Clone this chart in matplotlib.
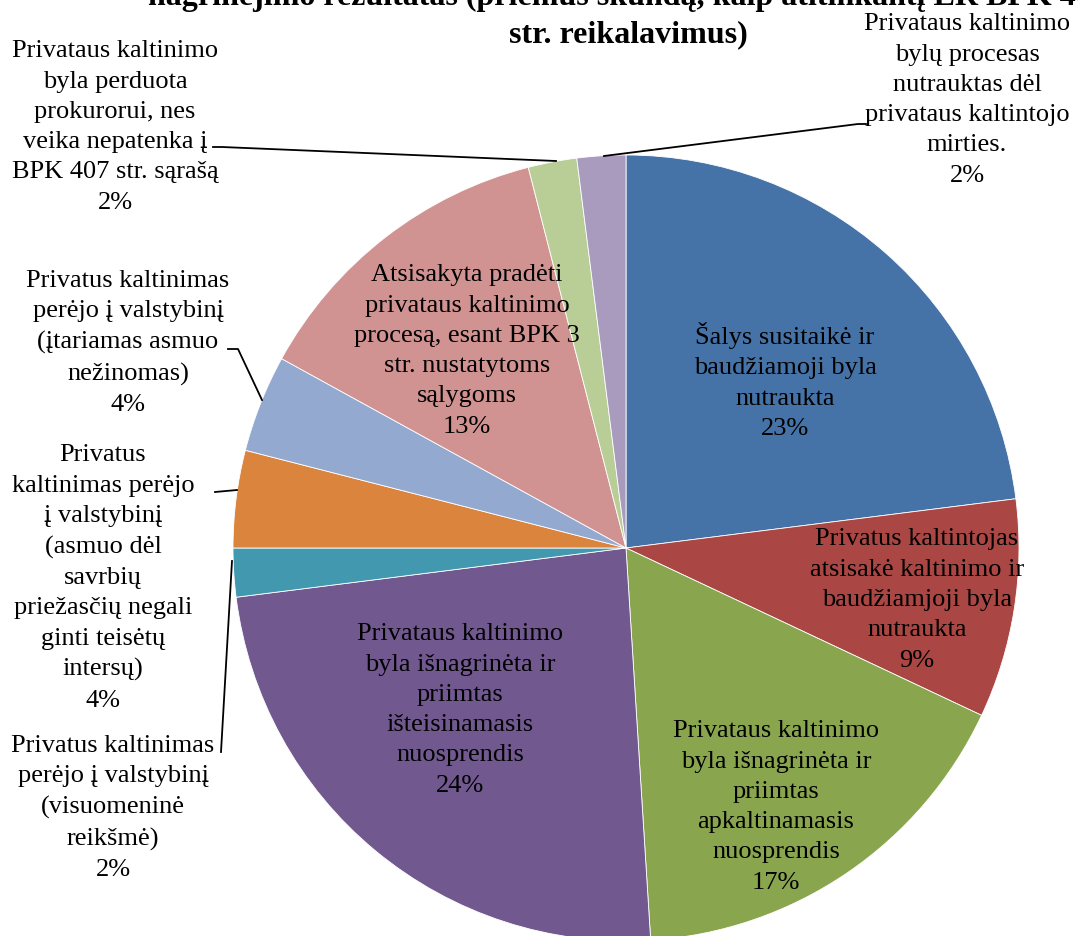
import numpy as np
import matplotlib.pyplot as plt
from matplotlib.lines import Line2D

plt.rcParams['font.family'] = ['Liberation Serif', 'DejaVu Serif']

# slice data (clockwise from the top)
shares = [23, 9, 17, 24, 2, 4, 4, 13, 2, 2]
labels = [
    'Šalys susitaikė ir\nbaudžiamoji byla\nnutraukta',
    'Privatus kaltintojas\natsisakė kaltinimo ir\nbaudžiamjoji byla\nnutraukta',
    'Privataus kaltinimo\nbyla išnagrinėta ir\npriimtas\napkaltinamasis\nnuosprendis',
    'Privataus kaltinimo\nbyla išnagrinėta ir\npriimtas\ništeisinamasis\nnuosprendis',
    'Privatus kaltinimas\nperėjo į valstybinį\n(visuomeninė\nreikšmė)',
    'Privatus\nkaltinimas perėjo\nį valstybinį\n(asmuo dėl\nsavrbių\npriežasčių negali\nginti teisėtų\nintersų)',
    'Privatus kaltinimas\nperėjo į valstybinį\n(įtariamas asmuo\nnežinomas)',
    'Atsisakyta pradėti\nprivataus kaltinimo\nprocesą, esant BPK 3\nstr. nustatytoms\nsąlygoms',
    'Privataus kaltinimo\nbyla perduota\nprokurorui, nes\nveika nepatenka į\nBPK 407 str. sąrašą',
    'Privataus kaltinimo\nbylų procesas\nnutrauktas dėl\nprivataus kaltintojo\nmirties.',
]
colors = ['#4572A7', '#AA4643', '#89A54E', '#71588F', '#4198AF',
          '#DB843D', '#93A9CF', '#D19392', '#B9CD96', '#A99BBD']
title_lines = ['nagrinėjimo rezultatas (priėmus skundą, kaip atitinkantį LR BPK 408',
               'str. reikalavimus)']

W, H = 1078, 936
CX, CY, R = 626, 548, 393  # pie centre / radius in pixels

# label centres in pixels (manual, like excel)
label_pos = [(785, 381), (917, 600), (776, 807), (460, 710), (113, 808),
             (103, 578), (128, 343), (467, 351), (115, 127), (967, 100)]
# leader lines for the outside labels
leaders = {
    4: [(221, 752), (232, 561)],
    5: [(215, 492), (237, 490)],
    6: [(228, 349), (238, 349), (262, 400)],
    8: [(213, 147), (222, 147), (556, 161)],
    9: [(604, 156), (858, 124), (866, 124)],
}

fig = plt.figure(figsize=(W / 100, H / 100), dpi=100)
ax = fig.add_axes([(CX - R) / W, (H - CY - R) / H, 2 * R / W, 2 * R / H])
ax.pie(shares, colors=colors, startangle=90, counterclock=False, radius=1,
       wedgeprops=dict(edgecolor='white', linewidth=0.6))
ax.set_xlim(-1, 1)
ax.set_ylim(-1, 1)
ax.axis('off')


def to_data(p):
    return (p[0] - CX) / R, (CY - p[1]) / R


for i, (lab, val) in enumerate(zip(labels, shares)):
    x, y = to_data(label_pos[i])
    ax.text(x, y, f'{lab}\n{val}%', ha='center', va='center', fontsize=19,
            linespacing=1.49, clip_on=False)

for i, pts in leaders.items():
    xs, ys = zip(*[to_data(p) for p in pts])
    ax.add_line(Line2D(xs, ys, color='black', linewidth=1.3, clip_on=False))

# title, top line runs off the image like in the source
for txt, base in zip(title_lines, [5, 42]):
    fig.text(628 / W, 1 - base / H, txt, ha='center', va='baseline',
             fontsize=23, fontweight='bold')

fig.savefig('out.png', dpi=100)
